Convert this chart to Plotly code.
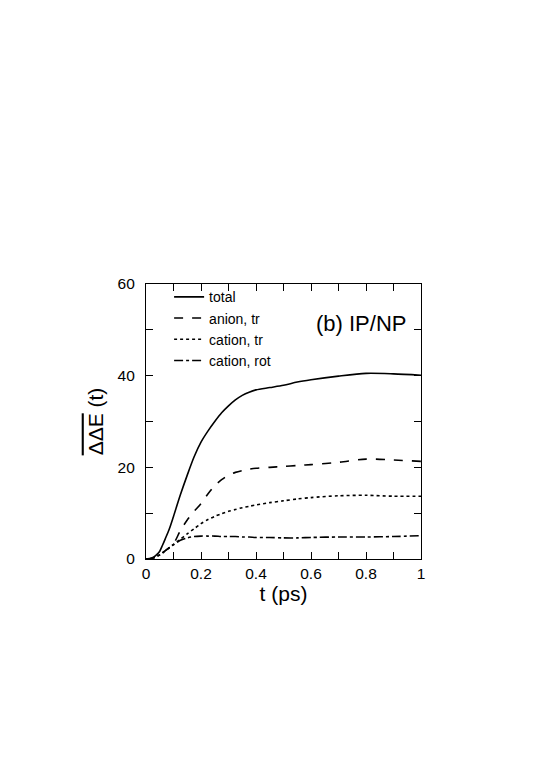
import plotly.graph_objects as go

t = [0, 0.02, 0.03, 0.04, 0.05, 0.06, 0.07, 0.085, 0.1, 0.125, 0.15, 0.175, 0.2, 0.225, 0.25, 0.275,
     0.3, 0.325, 0.35, 0.375, 0.4, 0.45, 0.5, 0.55, 0.6, 0.7, 0.8, 0.9, 1.0]
total = [0, 0.2, 0.5, 1.0, 1.7, 3.0, 4.4, 6.6, 9.3, 14.0, 18.3, 22.3, 25.5, 27.9, 30.0, 31.9,
         33.4, 34.7, 35.7, 36.4, 36.9, 37.4, 37.9, 38.6, 39.1, 39.9, 40.5, 40.4, 40.1]
anion_tr = [0, 0.1, 0.3, 0.6, 0.9, 1.3, 1.8, 2.5, 3.3, 6.2, 8.5, 10.4, 12.1, 14.2, 16.0, 17.3,
            18.3, 18.9, 19.3, 19.6, 19.8, 20.0, 20.2, 20.4, 20.6, 21.1, 21.8, 21.6, 21.3]
cation_tr = [0, 0.1, 0.3, 0.6, 0.9, 1.3, 1.8, 2.5, 3.2, 4.3, 5.5, 6.6, 7.7, 8.6, 9.3, 9.9,
             10.4, 10.8, 11.2, 11.5, 11.8, 12.3, 12.7, 13.1, 13.4, 13.8, 13.9, 13.7, 13.7]
cation_rot = [0, 0.1, 0.3, 0.6, 0.9, 1.3, 1.8, 2.5, 3.1, 4.1, 4.6, 4.9, 5.0, 5.0, 5.0, 4.9,
              4.9, 4.9, 4.8, 4.8, 4.7, 4.7, 4.6, 4.6, 4.7, 4.8, 4.8, 4.9, 5.1]

names = ["total", "anion, tr", "cation, tr", "cation, rot"]
series = [total, anion_tr, cation_tr, cation_rot]
dashes = ["solid", "dash", "dot", "dashdot"]

fig = go.Figure()
for n, s, d in zip(names, series, dashes):
    fig.add_trace(go.Scatter(x=t, y=s, mode="lines", name=n,
                             line=dict(color="black", dash=d, width=1.6, shape="spline", smoothing=0.8)))

axis_common = dict(showline=True, linecolor="black", linewidth=1.2, mirror="allticks",
                   ticks="inside", ticklen=7, tickcolor="black", tickwidth=1,
                   showgrid=False, zeroline=False,
                   tickfont=dict(family="Liberation Sans, Arial", size=15.5, color="black"))

fig.update_layout(
    width=553, height=784,
    margin=dict(l=138, r=140, t=276, b=233),
    paper_bgcolor="white", plot_bgcolor="white",
    font=dict(family="Liberation Sans, Arial", color="black"),
    xaxis=dict(range=[0, 1], tickvals=[0, 0.2, 0.4, 0.6, 0.8, 1], ticktext=["0", "0.2", "0.4", "0.6", "0.8", "1"],
               minor=dict(ticks="inside", ticklen=7, tickcolor="black", dtick=0.1),
               title=dict(text="t (ps)", font=dict(size=21), standoff=0), **axis_common),
    yaxis=dict(range=[0, 60], tickvals=[0, 20, 40, 60], ticklabelstandoff=7,
               minor=dict(ticks="inside", ticklen=7, tickcolor="black", dtick=10),
               title=dict(text="<span style='text-decoration:overline'>ΔΔE</span> (t)", font=dict(size=21), standoff=8),
               **axis_common),
    legend=dict(x=0.084, y=1.01, xanchor="left", yanchor="top", bgcolor="rgba(0,0,0,0)",
                font=dict(size=14, color="black"), tracegroupgap=0, itemwidth=30),
    showlegend=True,
)
fig.add_annotation(x=0.953, y=0.856, xref="paper", yref="paper", xanchor="right", yanchor="middle",
                   text="(b) IP/NP", showarrow=False, font=dict(size=22, color="black"))

fig.write_html("out.html")
